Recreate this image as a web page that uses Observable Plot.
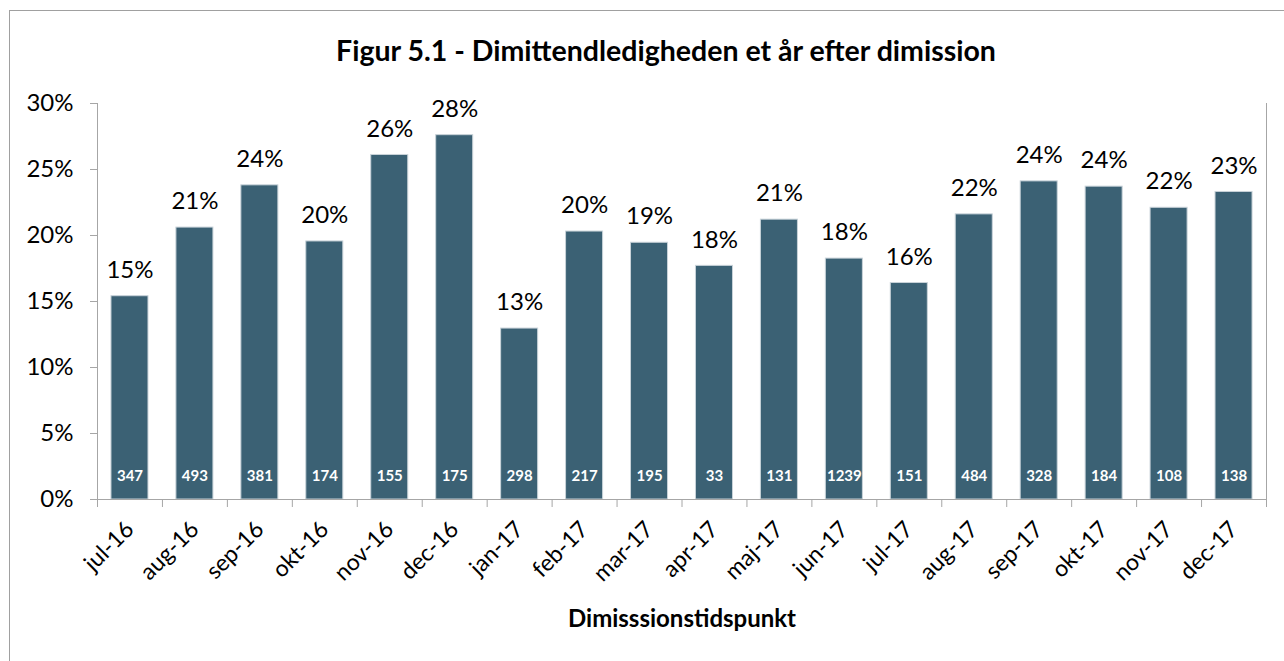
<!DOCTYPE html>
<html><head><meta charset="utf-8">
<script src="https://cdn.jsdelivr.net/npm/d3@7"></script>
<script src="https://cdn.jsdelivr.net/npm/@observablehq/plot@0.6"></script>
<style>
body{margin:0;background:#fff;}
#wrap{position:relative;width:1284px;height:661px;overflow:hidden;}
#border{position:absolute;left:9px;top:10px;width:1290px;height:670px;border:1px solid #a0a0a0;}
#chart{position:absolute;left:0;top:0;}
</style></head><body>
<div id="wrap"><div id="border"></div><div id="chart"></div></div>
<script>
const title = "Figur 5.1 - Dimittendledigheden et år efter dimission";
const xTitle = "Dimisssionstidspunkt";
const months = ["jul-16","aug-16","sep-16","okt-16","nov-16","dec-16","jan-17","feb-17","mar-17","apr-17","maj-17","jun-17","jul-17","aug-17","sep-17","okt-17","nov-17","dec-17"];
const rates = [0.154,0.206,0.238,0.1955,0.261,0.276,0.1295,0.203,0.1945,0.177,0.212,0.1825,0.164,0.216,0.241,0.237,0.221,0.233];
const counts = [347,493,381,174,155,175,298,217,195,33,131,1239,151,484,328,184,108,138];
const yTicks = [0,0.05,0.10,0.15,0.20,0.25,0.30];

const data = months.map((m,i)=>({month:m, rate:rates[i], n:counts[i]}));
const W=1284,H=661,mL=97,mR=18,mT=103,mB=162;
const step=(W-mL-mR)/months.length;
const font="Lato, sans-serif";
const gray="#a6a6a6";
const pct=d=>Math.round(d*100)+"%";

const chart = Plot.plot({
  width:W, height:H, marginLeft:mL, marginRight:mR, marginTop:mT, marginBottom:mB,
  style:{fontFamily:font, background:"transparent", color:"#000", overflow:"visible"},
  x:{domain:months, paddingInner:0.43, paddingOuter:0.215, round:false, label:null},
  y:{domain:[0,0.3], label:null},
  marks:[
    Plot.barY(data,{x:"month", y:"rate", fill:"#3b6174", stroke:"#c9d3d9", strokeWidth:1}),
    Plot.frame({anchor:"left", stroke:gray}),
    Plot.frame({anchor:"bottom", stroke:gray}),
    Plot.frame({anchor:"right", stroke:gray}),
    Plot.axisY({ticks:yTicks, tickSize:7, tickFormat:()=>"", stroke:gray}),
    Plot.axisY({ticks:yTicks, tickSize:0, tickPadding:24, tickFormat:pct, fontSize:24, fill:"#000"}),
    Plot.axisX({tickSize:8, tickFormat:()=>"", dx:-step/2, stroke:gray}),
    Plot.axisX({ticks:[months[months.length-1]], tickSize:8, tickFormat:()=>"", dx:step/2, stroke:gray}),
    Plot.axisX({tickSize:0, tickPadding:26, dx:0, tickRotate:-45, fontSize:23, fill:"#000"}),
    Plot.text(data,{x:"month", y:"rate", text:d=>pct(d.rate), dy:-26, fontSize:24, fill:"#000"}),
    Plot.text(data,{x:"month", y:0, text:d=>String(d.n), dy:-23, fontSize:15, fontWeight:"bold", fill:"white"}),
    Plot.text([title],{frameAnchor:"top", lineAnchor:"middle", dy:-52, dx:-16, fontSize:28.5, fontWeight:"bold", fill:"#000"}),
    Plot.text([xTitle],{frameAnchor:"bottom", lineAnchor:"middle", dy:120, fontSize:24, fontWeight:"bold", fill:"#000"})
  ]
});
document.getElementById("chart").appendChild(chart);
</script>
</body></html>
